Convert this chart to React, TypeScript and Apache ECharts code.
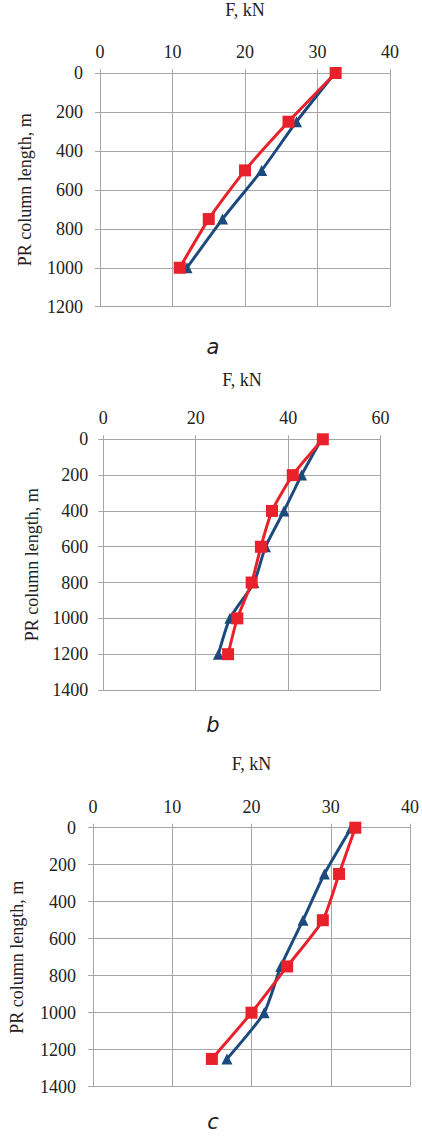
import React, { useEffect, useRef } from "react";
import * as echarts from "echarts";

// Panel a
const lengthA = [0, 250, 500, 750, 1000];
const redA = [32.5, 26.0, 20.0, 15.0, 11.0];
const blueA = [32.4, 27.1, 22.3, 16.9, 12.0];
// Panel b
const lengthB = [0, 200, 400, 600, 800, 1000, 1200];
const redB = [47.5, 41.0, 36.5, 34.1, 32.1, 29.0, 27.0];
const blueB = [47.2, 42.9, 39.1, 35.1, 32.6, 27.4, 24.9];
// Panel c
const lengthC = [0, 250, 500, 750, 1000, 1250];
const redC = [33.1, 31.05, 29.0, 24.5, 20.0, 15.0];
const blueC = [32.6, 29.2, 26.5, 23.7, 21.6, 16.9];

const xTitle = "F, kN";
const yTitle = "PR column length, m";
const panelLabels = ["a", "b", "c"];

const RED = "#e8212b";
const BLUE = "#1d4a7e";
const GRID = "#a6a6a6";
const FONT = "'Liberation Serif', 'Times New Roman', serif";

export default function App() {
  const ref = useRef<HTMLDivElement>(null);
  useEffect(() => {
    if (!ref.current) return;
    const chart = echarts.init(ref.current, null, { renderer: "svg" });

    const grids = [
      { left: 100, top: 72.7, width: 290, height: 234 },
      { left: 103.3, top: 439.3, width: 277.3, height: 250.7 },
      { left: 92.7, top: 827.7, width: 317.3, height: 259 },
    ];
    const xCfg = [
      { max: 40, interval: 10, nameGap: 54 },
      { max: 60, interval: 20, nameGap: 50 },
      { max: 40, interval: 10, nameGap: 55 },
    ];
    const yCfg = [
      { max: 1200, interval: 200, nameGap: 66 },
      { max: 1400, interval: 200, nameGap: 60 },
      { max: 1400, interval: 200, nameGap: 67 },
    ];
    const yLabelMargin = [17, 15, 17];
    const txt = { fontFamily: FONT, fontSize: 18, color: "#222" };

    const xAxis = xCfg.map((c, i) => ({
      type: "value",
      gridIndex: i,
      position: "top",
      min: 0,
      max: c.max,
      interval: c.interval,
      name: xTitle,
      nameLocation: "middle",
      nameGap: c.nameGap,
      nameTextStyle: { ...txt },
      axisLine: { show: true, lineStyle: { color: GRID, width: 1 } },
      axisTick: { show: true, length: 4, lineStyle: { color: GRID } },
      axisLabel: { ...txt, margin: 12, formatter: (v: number) => String(v) },
      splitLine: { show: true, lineStyle: { color: GRID, width: 1 } },
    }));

    const yAxis = yCfg.map((c, i) => ({
      type: "value",
      gridIndex: i,
      inverse: true,
      min: 0,
      max: c.max,
      interval: c.interval,
      name: yTitle,
      nameLocation: "middle",
      nameRotate: 90,
      nameGap: c.nameGap,
      nameTextStyle: { ...txt },
      axisLine: { show: true, lineStyle: { color: GRID, width: 1 } },
      axisTick: { show: true, length: 5, lineStyle: { color: GRID } },
      axisLabel: { ...txt, margin: yLabelMargin[i], formatter: (v: number) => String(v) },
      splitLine: { show: true, lineStyle: { color: GRID, width: 1 } },
    }));

    const mk = (xs: number[], ys: number[]) => xs.map((v, k) => [v, ys[k]]);
    const blueSeries = (i: number, d: number[][]) => ({
      type: "line",
      xAxisIndex: i,
      yAxisIndex: i,
      data: d,
      smooth: 0.2,
      symbol: "triangle",
      symbolSize: 11,
      z: 2,
      lineStyle: { color: BLUE, width: 3 },
      itemStyle: { color: BLUE },
    });
    const redSeries = (i: number, d: number[][]) => ({
      type: "line",
      xAxisIndex: i,
      yAxisIndex: i,
      data: d,
      smooth: 0.2,
      symbol: "rect",
      symbolSize: 12,
      z: 3,
      lineStyle: { color: RED, width: 3 },
      itemStyle: { color: RED },
    });

    const labelY = [347, 725, 1122];
    const labelX = [213, 213, 213];

    chart.setOption({
      animation: false,
      backgroundColor: "#ffffff",
      textStyle: { fontFamily: FONT },
      grid: grids,
      xAxis,
      yAxis,
      series: [
        blueSeries(0, mk(blueA, lengthA)),
        redSeries(0, mk(redA, lengthA)),
        blueSeries(1, mk(blueB, lengthB)),
        redSeries(1, mk(redB, lengthB)),
        blueSeries(2, mk(blueC, lengthC)),
        redSeries(2, mk(redC, lengthC)),
      ],
      graphic: panelLabels.map((t, i) => ({
        type: "text",
        x: labelX[i],
        y: labelY[i],
        style: {
          text: t,
          fontFamily: "'DejaVu Sans', sans-serif",
          fontStyle: "italic",
          fontSize: 21,
          fill: "#222",
          textAlign: "center",
          textVerticalAlign: "middle",
        },
      })),
    });
    return () => chart.dispose();
  }, []);
  return (
    <div
      ref={ref}
      style={{ position: "absolute", left: 0, top: 0, width: 422, height: 1136 }}
    />
  );
}
